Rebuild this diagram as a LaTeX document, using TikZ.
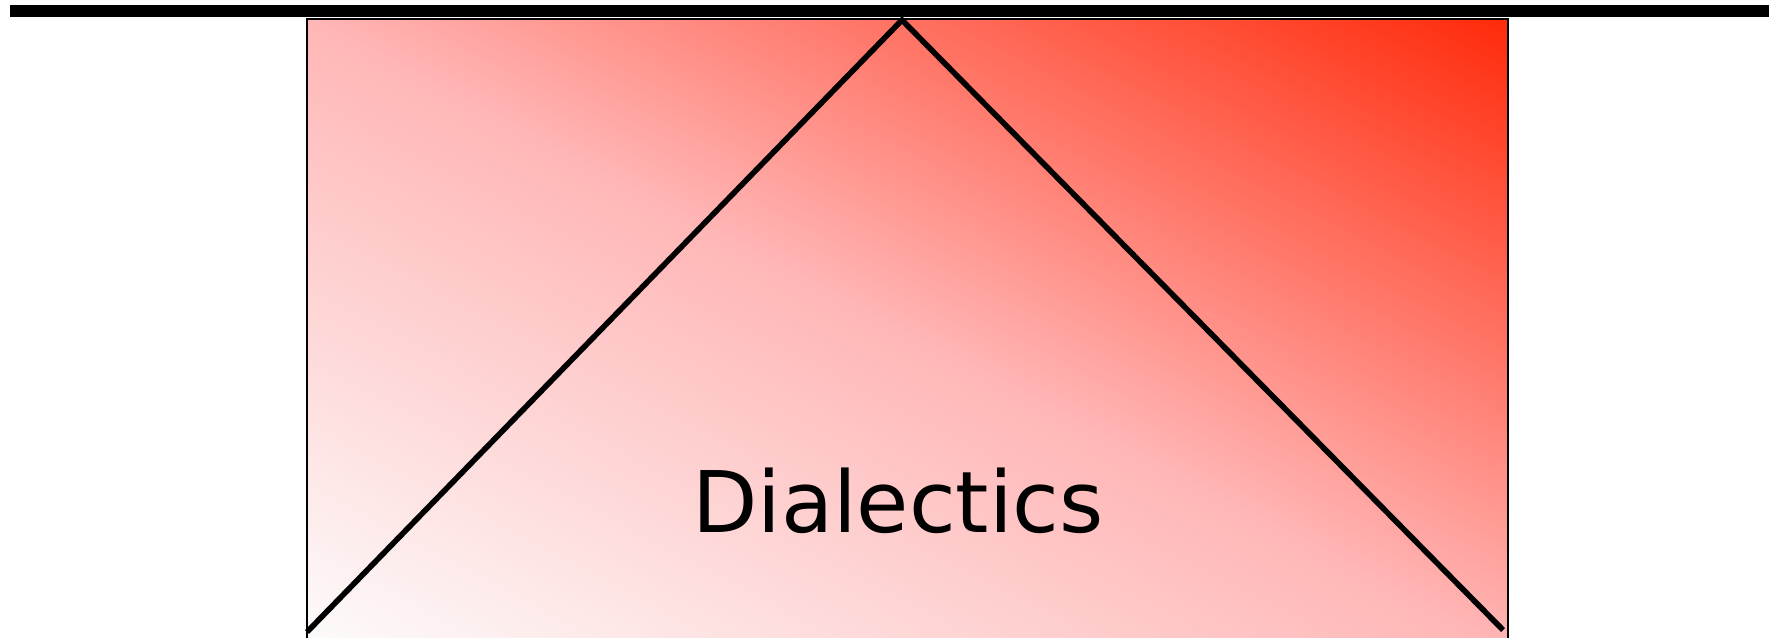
\documentclass[tikz,border=0pt]{standalone}
\usepackage{fontspec}
\setmainfont{DejaVu Sans}
\usetikzlibrary{calc}
\definecolor{hot}{HTML}{FF2A0A}
\definecolor{blush}{HTML}{FFB6B6}
\definecolor{pale}{HTML}{FDFCFC}
\pgfdeclarehorizontalshading{dialshade}{100bp}{color(0bp)=(pale); color(25bp)=(pale); color(50bp)=(blush); color(75bp)=(hot); color(100bp)=(hot)}
\tikzset{
  bar/.style={draw=black,line width=6pt},
  frame/.style={draw=black,line width=1pt},
  leg/.style={draw=black,line width=2.8pt,line join=miter},
  title/.style={font=\fontsize{42.5}{50}\selectfont,inner sep=0pt,anchor=base},
}
\begin{document}
\begin{tikzpicture}[x=0.5pt,y=-0.5pt]
\useasboundingbox (0,0) rectangle (1771,637);
\coordinate (barL) at (10,11); \coordinate (barR) at (1769,11);
\coordinate (tl) at (307,19); \coordinate (br) at (1508,650);
\coordinate (apex) at (902,20);
\coordinate (footL) at (307,632); \coordinate (footR) at (1503,630);
% gradient panel: white at lower left, red at upper right
\begin{scope}
  \clip (tl) rectangle (br);
  \begin{scope}[transform canvas={shift={(153.5pt,-325pt)},xscale=6.005,yscale=3.155,rotate=45}]
    \shade[shading=dialshade] (0pt,-70.71pt) rectangle (141.42pt,70.71pt);
  \end{scope}
\end{scope}
\draw[frame] (tl) rectangle (br);
\draw[bar] (barL) -- (barR);
\draw[leg] (footL) -- (apex) -- (footR);
\node[title] (word) at (898,532) {Dialectics};
\end{tikzpicture}
\end{document}
